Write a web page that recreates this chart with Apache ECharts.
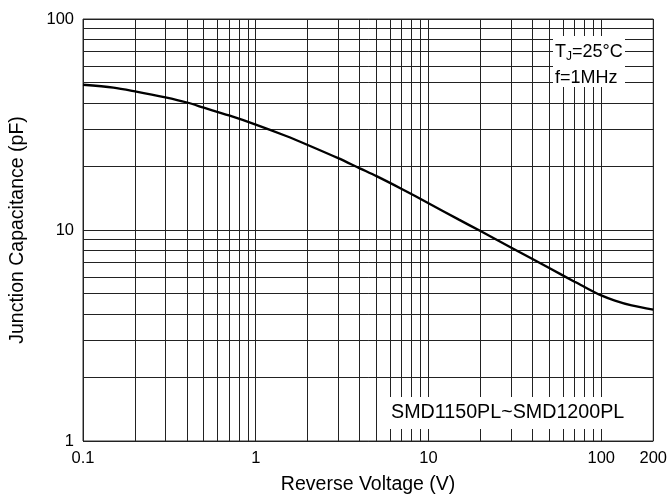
<!DOCTYPE html>
<html>
<head>
<meta charset="utf-8">
<script src="https://cdn.jsdelivr.net/npm/echarts@6/dist/echarts.min.js"></script>
<style>html,body{margin:0;padding:0;background:#fff}#c{width:670px;height:500px}</style>
</head>
<body>
<div id="c"></div>
<script>
var voltage = [0.1, 0.15, 0.2, 0.3, 0.4, 0.5, 0.7, 1, 1.5, 2, 3, 4, 5, 7, 10, 15, 20, 30, 40, 50, 70, 80, 100, 120, 150, 200];
var capacitance = [48.8, 47.3, 45.4, 42.5, 40.2, 38.0, 34.9, 31.6, 27.9, 25.3, 21.9, 19.6, 18.0, 15.65, 13.4, 11.2, 9.88, 8.26, 7.28, 6.60, 5.69, 5.37, 4.90, 4.63, 4.39, 4.19];
var xLabels = [0.1, 1, 10, 100, 200];
var xMinorGrid = [0.2,0.3,0.4,0.5,0.6,0.7,0.8,0.9,2,3,4,5,6,7,8,9,20,30,40,50,60,70,80,90];
var yMinorGrid = [2,3,4,5,6,7,8,9,20,30,40,50,60,70,80,90];
var tempNote = 'T{s|J}=25°C';
var freqNote = 'f=1MHz';
var partNote = 'SMD1150PL~SMD1200PL';

var FONT = 'Liberation Sans, Arial, sans-serif';
var chart = echarts.init(document.getElementById('c'));
var pts = voltage.map(function (v, i) { return [v, capacitance[i]]; });
var gridMarks = xMinorGrid.map(function (v) { return { xAxis: v }; })
  .concat(yMinorGrid.map(function (v) { return { yAxis: v }; }));

chart.setOption({
  animation: false,
  grid: { left: 80, right: 16, top: 19, bottom: 54, show: true, borderColor: '#333', borderWidth: 1 },
  xAxis: {
    type: 'log', logBase: 10, min: 0.1, max: 200,
    name: 'Reverse Voltage (V)', nameLocation: 'middle', nameGap: 34,
    nameTextStyle: { fontFamily: FONT, fontSize: 19.5, color: '#000' },
    axisLine: { show: false }, axisTick: { show: false },
    axisLabel: { customValues: xLabels, fontFamily: FONT, fontSize: 16.5, color: '#000', margin: 9,
      formatter: function (v) { return String(+v.toPrecision(3)); } },
    splitLine: { show: true, lineStyle: { color: '#222', width: 1 } }
  },
  yAxis: {
    type: 'log', logBase: 10, min: 1, max: 100,
    name: 'Junction Capacitance (pF)', nameLocation: 'middle', nameGap: 55,
    nameTextStyle: { fontFamily: FONT, fontSize: 19.5, color: '#000' },
    axisLine: { show: false }, axisTick: { show: false },
    axisLabel: { fontFamily: FONT, fontSize: 16.5, color: '#000', margin: 9,
      formatter: function (v) { return String(+v.toPrecision(3)); } },
    splitLine: { show: true, lineStyle: { color: '#222', width: 1 } }
  },
  series: [{
    type: 'line', data: pts, smooth: 0.3, symbol: 'none',
    lineStyle: { color: '#000', width: 2.3 }, z: 5,
    markLine: {
      silent: true, symbol: ['none', 'none'], label: { show: false },
      lineStyle: { color: '#222', width: 1, type: 'solid' },
      data: gridMarks, z: 1
    }
  }],
  graphic: [
    { type: 'rect', z: 100, shape: { x: 553, y: 36, width: 72, height: 51 }, style: { fill: '#fff' } },
    { type: 'text', z: 101, x: 555, y: 52, style: { text: tempNote, fontFamily: FONT, fontSize: 18, fill: '#000',
        verticalAlign: 'middle', rich: { s: { fontSize: 12, fontFamily: FONT, fill: '#000', padding: [10, 0, 0, 0] } } } },
    { type: 'text', z: 101, x: 555, y: 78, style: { text: freqNote, fontFamily: FONT, fontSize: 18, fill: '#000', verticalAlign: 'middle' } },
    { type: 'rect', z: 100, shape: { x: 385, y: 397, width: 247, height: 32 }, style: { fill: '#fff' } },
    { type: 'text', z: 101, x: 391, y: 413, style: { text: partNote, fontFamily: FONT, fontSize: 19.7, fill: '#000', verticalAlign: 'middle' } }
  ]
});
</script>
</body>
</html>
